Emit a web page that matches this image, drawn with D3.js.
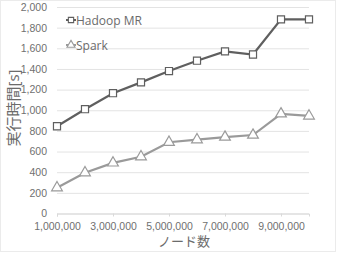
<!DOCTYPE html>
<html><head><meta charset="utf-8">
<script src="https://cdn.jsdelivr.net/npm/d3@7"></script>
<style>body{margin:0;background:#fff;}svg{display:block;font-family:"Open Sans","Noto Sans CJK JP",sans-serif;}</style>
</head><body><svg id="c" width="340" height="253"></svg>
<script>
const nodes = [1000000,2000000,3000000,4000000,5000000,6000000,7000000,8000000,9000000,10000000];
const hadoop = [845,1010,1165,1270,1380,1480,1570,1540,1880,1880];
const spark = [250,395,490,550,690,715,740,760,965,945];
const xTicks = [1000000,3000000,5000000,7000000,9000000];
const yTicks = [0,200,400,600,800,1000,1200,1400,1600,1800,2000];

const svg = d3.select("#c");
svg.append("rect").attr("x",0.5).attr("y",0.5).attr("width",335).attr("height",251).attr("fill","#fff").attr("stroke","#ebebeb");
const x = d3.scaleLinear().domain([1000000,10000000]).range([57,309]);
const y = d3.scaleLinear().domain([0,2000]).range([213.5,7]);
const fmt = d3.format(",");

const ya = svg.append("g").attr("transform","translate(57,0)")
  .call(d3.axisLeft(y).tickValues(yTicks).tickFormat(fmt).tickSize(-252).tickPadding(10));
ya.select(".domain").remove();
ya.selectAll("line").attr("stroke","#e3e3e3");
ya.selectAll("text").attr("fill","#707070").style("font-size","10.5px");

const xa = svg.append("g").attr("transform","translate(0,213.5)")
  .call(d3.axisBottom(x).tickValues(xTicks).tickFormat(fmt).tickSize(3).tickPadding(6));
xa.select(".domain").attr("stroke","#d9d9d9");
xa.selectAll("line").attr("stroke","#d9d9d9");
xa.selectAll("text").attr("fill","#707070").style("font-size","10.5px");

function series(vals, color, shape){
  const line = d3.line().x((d,i)=>x(nodes[i])).y(d=>y(d));
  svg.append("path").datum(vals).attr("d",line).attr("fill","none").attr("stroke",color).attr("stroke-width",2.2);
  svg.append("g").selectAll("path").data(vals).join("path")
    .attr("transform",(d,i)=>`translate(${x(nodes[i])},${y(d)})`)
    .attr("d",d3.symbol().type(shape).size(50))
    .attr("fill","#fff").attr("stroke",color).attr("stroke-width",1.2);
}
series(hadoop,"#5f5f5f",d3.symbolSquare);
series(spark,"#9a9a9a",d3.symbolTriangle);

// legend
const leg = [["Hadoop MR","#5f5f5f",d3.symbolSquare,20],["Spark","#9a9a9a",d3.symbolTriangle,45]];
leg.forEach(([t,c,s,yy])=>{
  svg.append("line").attr("x1",66).attr("x2",76).attr("y1",yy).attr("y2",yy).attr("stroke",c).attr("stroke-width",2);
  svg.append("path").attr("transform",`translate(71,${yy})`).attr("d",d3.symbol().type(s).size(28))
    .attr("fill","#fff").attr("stroke",c).attr("stroke-width",1.1);
  svg.append("text").attr("x",76).attr("y",yy+4.5).text(t).attr("fill","#6b6b6b").style("font-size","12px");
});

svg.append("text").attr("transform","translate(19,108) rotate(-90)").attr("text-anchor","middle")
  .text("実行時間[s]").attr("fill","#6b6b6b").style("font-size","15px");
svg.append("text").attr("x",184).attr("y",246).attr("text-anchor","middle")
  .text("ノード数").attr("fill","#6b6b6b").style("font-size","13px");
</script></body></html>
